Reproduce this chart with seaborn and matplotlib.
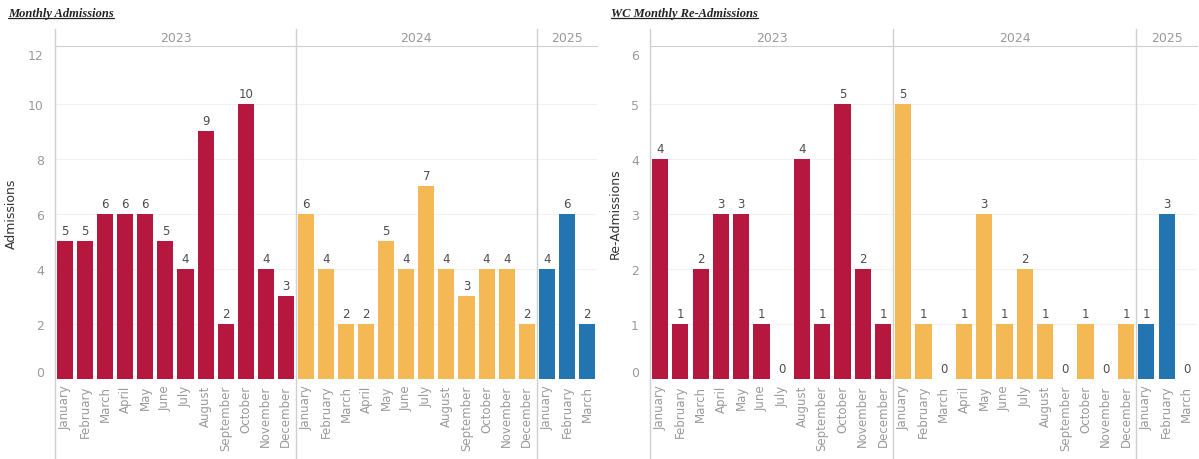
import matplotlib
matplotlib.use("Agg")
import matplotlib.pyplot as plt
import seaborn as sns
import pandas as pd
from matplotlib.lines import Line2D

# 데이터
months = ["January", "February", "March", "April", "May", "June", "July",
          "August", "September", "October", "November", "December"]
years = ["2023", "2024", "2025"]
months_2025 = months[:3]

adm_2023 = [5, 5, 6, 6, 6, 5, 4, 9, 2, 10, 4, 3]
adm_2024 = [6, 4, 2, 2, 5, 4, 7, 4, 3, 4, 4, 2]
adm_2025 = [4, 6, 2]

readm_2023 = [4, 1, 2, 3, 3, 1, 0, 4, 1, 5, 2, 1]
readm_2024 = [5, 1, 0, 1, 3, 1, 2, 1, 0, 1, 0, 1]
readm_2025 = [1, 3, 0]

year_colors = {"2023": "#B5173E", "2024": "#F4B955", "2025": "#2275B1"}


def make_df(v23, v24, v25):
    rows = []
    for y, ms, vals in [("2023", months, v23), ("2024", months, v24), ("2025", months_2025, v25)]:
        for m, v in zip(ms, vals):
            rows.append({"key": f"{y}-{m}", "month": m, "year": y, "value": v})
    return pd.DataFrame(rows)


sns.set_style("white")
plt.rcParams["font.family"] = ["DejaVu Sans"]

fig = plt.figure(figsize=(11.99, 4.6), dpi=100)
W, H = 1199, 460
grey_line = "#d0d0d0"
tick_grey = "#9a9a9a"


def draw_panel(x0, x1, df, ymax, ystep, ylabel, title, title_x, ylabel_x):
    y_base, y_top = 380, 47
    ax = fig.add_axes([x0 / W, (H - y_base) / H, (x1 - x0) / W, (y_base - y_top) / H])
    sns.barplot(data=df, x="key", y="value", hue="year", palette=year_colors,
                dodge=False, width=0.8, legend=False, ax=ax, saturation=1,
                linewidth=0, edgecolor="none")
    for p in ax.patches:
        p.set_zorder(3)
    for c in ax.containers:
        ax.bar_label(c, padding=3, fontsize=8.5, color="#4d4d4d")
    n = len(df)
    ax.set_xlim(-0.5, n - 0.5)
    ax.set_ylim(0, ymax)
    yt = list(range(0, int(ymax) + 1, ystep))
    ax.set_yticks(yt)
    ax.set_xticks(range(n))
    ax.set_xticklabels(df["month"], rotation=90, fontsize=8.5, color=tick_grey)
    ax.tick_params(axis="y", labelsize=9, colors=tick_grey, length=0, pad=8)
    ax.tick_params(axis="x", length=0, pad=4)
    # 가장자리 눈금 라벨은 안쪽으로
    ylabels = ax.get_yticklabels()
    ylabels[0].set_va("bottom")
    ylabels[-1].set_va("top")
    ax.set_xlabel("")
    ax.set_ylabel(ylabel, fontsize=9, color="#333333")
    ax.yaxis.set_label_coords((ylabel_x - x0) / (x1 - x0), 0.5)
    ax.grid(axis="y", color="#f2f2f2", linewidth=0.8, zorder=0)
    ax.get_ygridlines()[-1].set_visible(False)
    ax.set_axisbelow(True)
    for s in ["right", "bottom", "left"]:
        ax.spines[s].set_visible(False)
    ax.spines["top"].set_color(grey_line)
    ax.axhline(0, color="#e6e6e6", linewidth=0.8, zorder=0)

    top_ext = (y_base - 30) / (y_base - y_top)
    bot_ext = (y_base - H) / (y_base - y_top)
    for xv in [-0.5, 11.5, 23.5]:
        ax.axvline(xv, ymin=bot_ext, ymax=top_ext, color=grey_line, linewidth=1, clip_on=False)

    # 연도 헤더
    for start, end, y in [(-0.5, 11.5, "2023"), (11.5, 23.5, "2024"), (23.5, n - 0.5, "2025")]:
        ax.text((start + end) / 2, 1.027, y, transform=ax.get_xaxis_transform(),
                ha="center", va="center", fontsize=9, color=tick_grey)

    t = fig.text(title_x / W, 1 - 14 / H, title, fontsize=9, fontweight="bold",
                 fontstyle="italic", family="Liberation Serif", color="#222222",
                 ha="left", va="center")
    return ax, t


ax1, t1 = draw_panel(55, 597, make_df(adm_2023, adm_2024, adm_2025), 12.1, 2,
                     "Admissions", "Monthly Admissions", 8, 18)
ax2, t2 = draw_panel(650, 1197, make_df(readm_2023, readm_2024, readm_2025), 6.05, 1,
                     "Re-Admissions", "WC Monthly Re-Admissions", 611, 622)

# 제목 밑줄
fig.canvas.draw()
r = fig.canvas.get_renderer()
for t in [t1, t2]:
    bb = t.get_window_extent(renderer=r).transformed(fig.transFigure.inverted())
    fig.add_artist(Line2D([bb.x0, bb.x1], [bb.y0 + 0.002, bb.y0 + 0.002],
                          transform=fig.transFigure, color="#222222", linewidth=0.9))

fig.savefig("out.png", dpi=100)
